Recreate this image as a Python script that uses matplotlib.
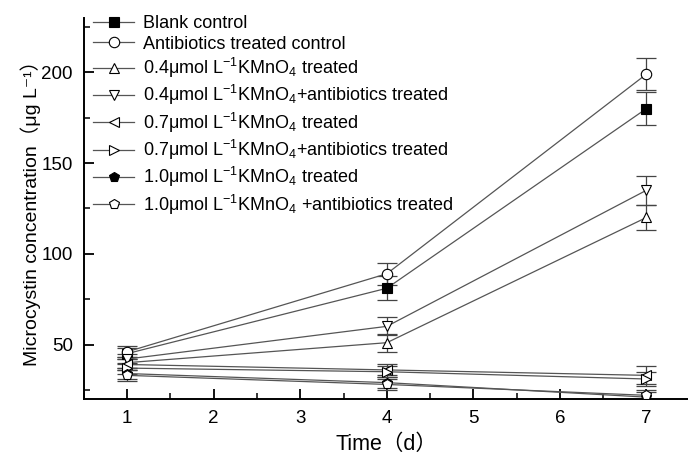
import matplotlib
matplotlib.use("Agg")
import matplotlib.pyplot as plt
from matplotlib.ticker import MultipleLocator

plt.rcParams['font.family'] = ['Liberation Sans', 'Noto Sans CJK SC', 'DejaVu Sans']
plt.rcParams['mathtext.fontset'] = 'custom'
plt.rcParams['mathtext.rm'] = 'Liberation Sans'
plt.rcParams['mathtext.it'] = 'Liberation Sans:italic'
plt.rcParams['mathtext.default'] = 'regular'

# sampling days
days = [1, 4, 7]

# microcystin concentration (ug/L) and error bars
blank = [45, 81, 180]
blank_err = [3, 6.5, 9]
abx = [46, 89, 199]
abx_err = [3, 6, 9]
k04 = [40, 51, 120]
k04_err = [3, 5, 7]
k04_abx = [42, 60, 135]
k04_abx_err = [3, 5, 8]
k07 = [39, 36, 33]
k07_err = [3, 3, 5]
k07_abx = [37, 35, 31]
k07_abx_err = [3, 3, 4]
k10 = [34, 29, 21]
k10_err = [3, 3, 3]
k10_abx = [33, 28, 22]
k10_abx_err = [3, 3, 3]

labels = [
    "Blank control",
    "Antibiotics treated control",
    "0.4μmol L$^{-1}$KMnO$_4$ treated",
    "0.4μmol L$^{-1}$KMnO$_4$+antibiotics treated",
    "0.7μmol L$^{-1}$KMnO$_4$ treated",
    "0.7μmol L$^{-1}$KMnO$_4$+antibiotics treated",
    "1.0μmol L$^{-1}$KMnO$_4$ treated",
    "1.0μmol L$^{-1}$KMnO$_4$ +antibiotics treated",
]

series = [
    (blank, blank_err, 's', 'black'),
    (abx, abx_err, 'o', 'white'),
    (k04, k04_err, '^', 'white'),
    (k04_abx, k04_abx_err, 'v', 'white'),
    (k07, k07_err, '<', 'white'),
    (k07_abx, k07_abx_err, '>', 'white'),
    (k10, k10_err, 'p', 'black'),
    (k10_abx, k10_abx_err, 'p', 'white'),
]

fig = plt.figure(figsize=(6.88, 4.57), dpi=100)
ax = fig.add_axes([0.122, 0.127, 0.878, 0.834])

handles = []
for (vals, errs, mk, fc), lab in zip(series, labels):
    ax.errorbar(days, vals, yerr=errs, fmt='none', ecolor='#444444',
                elinewidth=0.9, capsize=7, capthick=0.9, zorder=2)
    h, = ax.plot(days, vals, color='#555555', lw=0.9, marker=mk, ms=7.5,
                 mfc=fc, mec='black', mew=0.8, label=lab, zorder=3)
    handles.append(h)

ax.set_xlim(0.5, 7.48)
ax.set_ylim(20, 230)
ax.xaxis.set_major_locator(MultipleLocator(1))
ax.xaxis.set_minor_locator(MultipleLocator(0.5))
ax.yaxis.set_major_locator(MultipleLocator(50))
ax.yaxis.set_minor_locator(MultipleLocator(25))
ax.set_yticks([50, 100, 150, 200])

for side in ['top', 'right']:
    ax.spines[side].set_visible(False)
for side in ['left', 'bottom']:
    ax.spines[side].set_linewidth(1.4)

ax.tick_params(which='major', direction='in', length=7, width=1.3, labelsize=13.5, pad=8)
ax.tick_params(which='minor', direction='in', length=4, width=1.1)

ax.set_xlabel("Time（d）", fontsize=15.5, labelpad=5)
ax.set_ylabel("Microcystin concentration（μg L⁻¹）", fontsize=14, labelpad=0)

ax.legend(handles=handles, loc='upper left', bbox_to_anchor=(0.0, 1.03),
          frameon=False, fontsize=13, handlelength=2.3, handletextpad=0.45,
          labelspacing=0.18, borderaxespad=0.3, borderpad=0.2)

fig.savefig("out.png", dpi=100)
